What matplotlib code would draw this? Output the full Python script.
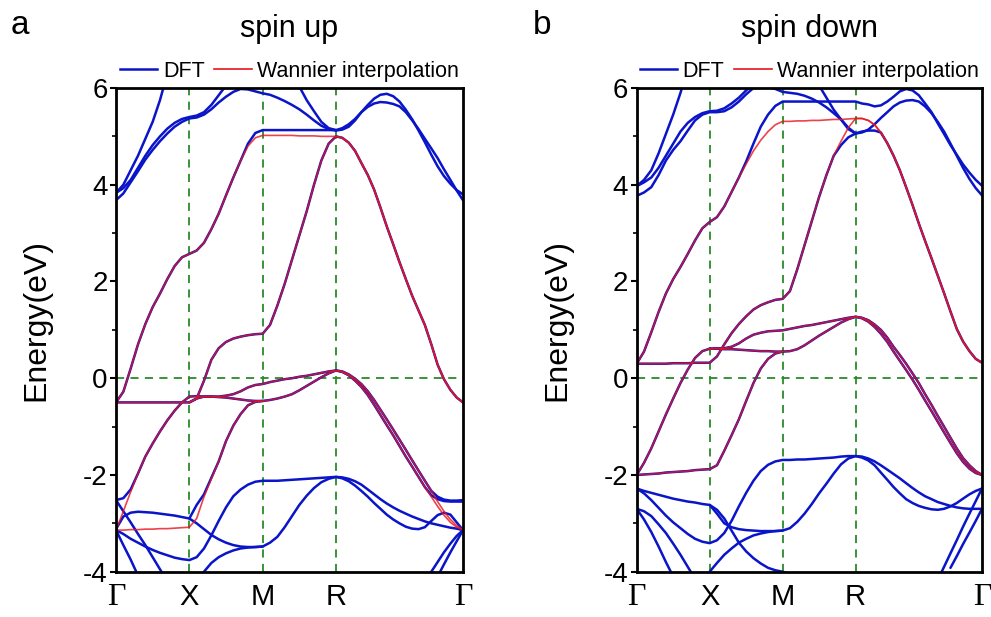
import numpy as np
import matplotlib.pyplot as plt

plt.rcParams['font.family'] = ['Liberation Sans', 'DejaVu Sans']
plt.rcParams['axes.unicode_minus'] = False

nan = np.nan
N = [nan]

# high-symmetry points of the simple cubic path G-X-M-R-G
k_nodes = [0.0, 0.5, 1.0, 1.5, 2.366]
k_labels = ['Γ', 'X', 'M', 'R', 'Γ']

# k values where the bands were read (G-X 11, X-M 10, M-R 10, R-G 20)
kpts = [0.0, 0.05, 0.1, 0.15, 0.2, 0.25, 0.3, 0.35, 0.4, 0.45, 0.5,
        0.55, 0.6, 0.65, 0.7, 0.75, 0.8, 0.85, 0.9, 0.95, 1.0,
        1.05, 1.1, 1.15, 1.2, 1.25, 1.3, 1.35, 1.4, 1.45, 1.5,
        1.543, 1.587, 1.63, 1.673, 1.717, 1.76, 1.803, 1.846, 1.89, 1.933,
        1.976, 2.02, 2.063, 2.106, 2.15, 2.193, 2.236, 2.28, 2.323, 2.366]

# ---------------- spin up ----------------
up_w1 = ([-0.5, -0.28, 0.2, 0.7, 1.12, 1.47, 1.75, 2.05, 2.32, 2.5, 2.57]
         + [2.64, 2.8, 3.08, 3.4, 3.78, 4.15, 4.5, 4.8, 4.97, 5.02]
         + [5.02, 5.02, 5.02, 5.02, 5.01, 5.01, 5.01, 5.0, 5.0, 5.0]
         + [4.97, 4.87, 4.7, 4.45, 4.2, 3.9, 3.53, 3.14, 2.77, 2.4,
            2.05, 1.7, 1.4, 1.1, 0.7, 0.28, -0.02, -0.24, -0.4, -0.5])
up_w2 = ([-0.5] * 11
         + [-0.42, -0.05, 0.38, 0.62, 0.75, 0.82, 0.86, 0.89, 0.91, 0.92]
         + [1.1, 1.5, 1.95, 2.45, 2.95, 3.45, 4.0, 4.5, 4.85, 5.0]
         + up_w1[31:])
up_w3 = ([-3.15, -2.75, -2.35, -1.97, -1.62, -1.35, -1.1, -0.87, -0.67, -0.5, -0.38]
         + [-0.37, -0.38, -0.38, -0.38, -0.36, -0.33, -0.27, -0.19, -0.14, -0.12]
         + [-0.08, -0.05, -0.02, 0.0, 0.03, 0.05, 0.08, 0.11, 0.14, 0.16]
         + [0.14, 0.08, -0.01, -0.12, -0.27, -0.45, -0.65, -0.85, -1.06, -1.27,
            -1.48, -1.7, -1.91, -2.12, -2.33, -2.55, -2.75, -2.92, -3.05, -3.13])
up_w4 = ([-3.14, -3.14, -3.13, -3.13, -3.12, -3.12, -3.11, -3.11, -3.1, -3.09, -3.08]
         + [-2.9, -2.45, -2.08, -1.72, -1.3, -0.98, -0.74, -0.56, -0.49, -0.47]
         + [-0.45, -0.42, -0.38, -0.33, -0.25, -0.16, -0.07, 0.02, 0.1, 0.16]
         + [0.13, 0.06, -0.05, -0.18, -0.35, -0.55, -0.76, -0.97, -1.18, -1.4,
            -1.62, -1.83, -2.04, -2.25, -2.45, -2.65, -2.83, -2.98, -3.08, -3.13])
up_w5 = (N * 10 + [-0.5]
         + [-0.42, -0.38, -0.38, -0.39, -0.4, -0.42, -0.44, -0.46, -0.47, -0.47]
         + N * 30)
up_wannier = [up_w1, up_w2, up_w3, up_w4, up_w5]

up_d1 = (up_w1[:18] + [4.85, 5.07, 5.13]
         + [5.13] * 10
         + [5.17, 5.25, 5.36, 5.5, 5.65, 5.78, 5.86, 5.88, 5.83, 5.72,
            5.55, 5.35, 5.12, 4.88, 4.62, 4.38, 4.18, 4.02, 3.89, 3.8])
up_d3 = ([-2.52, -2.48, -2.3, -1.97] + up_w3[4:45]
         + [-2.33, -2.45, -2.51, -2.53, -2.53, -2.52])
up_d4 = ([-3.12, -2.86, -2.78, -2.76, -2.77, -2.78, -2.8, -2.82, -2.84, -2.87, -2.9]
         + [-2.62, -2.4, -2.06] + up_w4[14:45]
         + [-2.42, -2.5, -2.54, -2.55, -2.55, -2.55])
up_d6 = [3.83, 4.0, 4.3, 4.6, 4.95, 5.3, 5.75, 6.3] + N * 43
up_d7 = ([3.83, 3.93, 4.1, 4.35, 4.6, 4.82, 5.0, 5.16, 5.28, 5.36, 5.4]
         + [5.43, 5.5, 5.65, 5.85, 6.05, 6.3] + N * 34)
up_d8 = ([3.68, 3.82, 4.05, 4.28, 4.52, 4.72, 4.9, 5.06, 5.2, 5.3, 5.37]
         + [5.39, 5.45, 5.56, 5.7, 5.82, 5.92, 5.98, 5.97, 5.93, 5.89]
         + [5.86, 5.8, 5.73, 5.65, 5.56, 5.45, 5.33, 5.22, 5.15, 5.12]
         + [5.14, 5.2, 5.33, 5.5, 5.61, 5.68, 5.71, 5.7, 5.67, 5.62,
            5.5, 5.33, 5.15, 4.95, 4.75, 4.55, 4.32, 4.1, 3.88, 3.68])
up_d9 = N * 24 + [6.3, 6.03, 5.75, 5.52, 5.3, 5.17, 5.13] + N * 20
up_d10 = ([-3.14, -3.22, -3.32, -3.4, -3.48, -3.55, -3.61, -3.66, -3.71, -3.74, -3.76]
          + [-3.7, -3.52, -3.25, -2.95, -2.67, -2.44, -2.3, -2.2, -2.14, -2.12]
          + [-2.12, -2.12, -2.11, -2.1, -2.09, -2.08, -2.07, -2.06, -2.05, -2.04]
          + [-2.05, -2.08, -2.13, -2.2, -2.3, -2.4, -2.5, -2.59, -2.67, -2.74,
             -2.8, -2.86, -2.91, -2.96, -3.0, -3.03, -3.06, -3.09, -3.11, -3.14])
up_d11 = (N * 10 + [-2.9]
          + [-3.0, -3.12, -3.24, -3.33, -3.4, -3.45, -3.48, -3.49, -3.49, -3.48]
          + [-3.4, -3.28, -3.08, -2.85, -2.62, -2.43, -2.27, -2.15, -2.08, -2.04]
          + [-2.07, -2.13, -2.22, -2.33, -2.45, -2.58, -2.7, -2.82, -2.92, -3.0,
             -3.07, -3.11, -3.12, -3.08, -2.95, -2.83, -2.78, -2.82, -2.98, -3.14])
up_d12 = [-2.52, -2.75, -2.98, -3.22, -3.45, -3.7, -3.95, -4.2] + N * 43
up_d13 = [-3.14, -3.45, -3.75, -4.08] + N * 47
up_d14 = N * 11 + [-4.3, -4.0, -3.82, -3.7, -3.62, -3.56, -3.52, -3.5, -3.49, -3.48] + N * 30
up_d15 = N * 44 + [-4.19, -4.0, -3.8, -3.6, -3.42, -3.26, -3.14]
up_d16 = N * 46 + [-4.1, -3.85, -3.6, -3.37, -3.14]
up_dft = [up_d1, up_w2, up_d3, up_d4, up_w5, up_d6, up_d7, up_d8, up_d9,
          up_d10, up_d11, up_d12, up_d13, up_d14, up_d15, up_d16]

# ---------------- spin down ----------------
dn_w1 = ([0.3, 0.55, 0.95, 1.37, 1.75, 2.05, 2.3, 2.57, 2.85, 3.1, 3.23]
         + [3.33, 3.55, 3.85, 4.15, 4.43, 4.7, 4.92, 5.1, 5.24, 5.31]
         + [5.31, 5.32, 5.32, 5.33, 5.33, 5.34, 5.35, 5.35, 5.36, 5.37]
         + [5.37, 5.33, 5.24, 5.08, 4.86, 4.6, 4.3, 3.95, 3.58, 3.2,
            2.84, 2.48, 2.12, 1.76, 1.38, 1.02, 0.76, 0.56, 0.4, 0.32])
dn_w2 = ([0.3, 0.3, 0.3, 0.3, 0.3, 0.31, 0.31, 0.31, 0.32, 0.32, 0.32]
         + [0.45, 0.7, 0.93, 1.12, 1.28, 1.42, 1.51, 1.57, 1.62, 1.64]
         + [1.8, 2.25, 2.75, 3.25, 3.75, 4.2, 4.6, 4.9, 5.18, 5.37]
         + dn_w1[31:])
dn_w3 = ([-2.0, -1.75, -1.45, -1.1, -0.75, -0.42, -0.1, 0.18, 0.42, 0.56, 0.61]
         + [0.62, 0.62, 0.65, 0.72, 0.82, 0.9, 0.94, 0.97, 0.98, 0.99]
         + [1.02, 1.05, 1.08, 1.1, 1.13, 1.16, 1.19, 1.22, 1.25, 1.27]
         + [1.25, 1.2, 1.11, 1.0, 0.84, 0.65, 0.48, 0.3, 0.1, -0.1,
            -0.33, -0.55, -0.78, -1.0, -1.23, -1.45, -1.65, -1.8, -1.92, -2.0])
dn_w4 = ([-2.0, -1.99, -1.98, -1.97, -1.95, -1.94, -1.93, -1.92, -1.9, -1.89, -1.88]
         + [-1.8, -1.5, -1.18, -0.85, -0.47, -0.1, 0.2, 0.4, 0.51, 0.55]
         + [0.56, 0.6, 0.68, 0.78, 0.88, 0.97, 1.06, 1.15, 1.22, 1.27]
         + [1.24, 1.17, 1.06, 0.92, 0.75, 0.55, 0.36, 0.17, -0.03, -0.24,
            -0.46, -0.68, -0.9, -1.12, -1.34, -1.55, -1.73, -1.87, -1.96, -2.0])
dn_w5 = (N * 10 + [0.61]
         + [0.61, 0.6, 0.6, 0.59, 0.58, 0.57, 0.56, 0.56, 0.55, 0.55]
         + N * 30)
dn_wannier = [dn_w1, dn_w2, dn_w3, dn_w4, dn_w5]

dn_d1 = (dn_w1[:15] + [4.48, 4.85, 5.2, 5.45, 5.63, 5.72]
         + [5.72] * 10
         + [5.68, 5.66, 5.62, 5.64, 5.72, 5.82, 5.93, 5.98, 5.95, 5.85,
            5.68, 5.5, 5.27, 5.05, 4.82, 4.62, 4.42, 4.25, 4.1, 3.98])
dn_d2 = (dn_w2[:27] + [4.6, 4.82, 4.98, 5.06]
         + [5.1, 5.12, 5.12, 5.08, 4.86] + dn_w1[36:])
dn_d6 = [3.97, 4.1, 4.3, 4.65, 5.05, 5.45, 5.9, 6.4] + N * 43
dn_d7 = ([3.97, 4.05, 4.15, 4.35, 4.6, 4.85, 5.1, 5.28, 5.4, 5.48, 5.52]
         + [5.53, 5.58, 5.68, 5.8, 5.95, 6.1] + N * 34)
dn_d8 = ([3.77, 3.84, 3.95, 4.2, 4.5, 4.72, 4.9, 5.12, 5.33, 5.45, 5.5]
         + [5.5, 5.52, 5.6, 5.72, 5.87, 6.0, 6.05, 6.03, 5.98, 5.92]
         + [5.9, 5.88, 5.84, 5.78, 5.7, 5.6, 5.48, 5.35, 5.18, 5.06]
         + [5.08, 5.14, 5.25, 5.38, 5.5, 5.62, 5.7, 5.74, 5.75, 5.72,
            5.62, 5.48, 5.3, 5.1, 4.85, 4.6, 4.35, 4.12, 3.93, 3.78])
dn_d9 = N * 24 + [6.35, 6.05, 5.8, 5.55, 5.35, 5.15, 5.06] + N * 20
dn_d10 = ([-2.28, -2.33, -2.37, -2.41, -2.45, -2.49, -2.52, -2.55, -2.57, -2.6, -2.62]
          + [-2.72, -2.9, -3.15, -3.4, -3.58, -3.72, -3.83, -3.92, -3.97, -4.0]
          + [-4.05, -4.15] + N * 28)
dn_d11 = ([-2.28, -2.38, -2.52, -2.68, -2.84, -2.98, -3.1, -3.22, -3.32, -3.38, -3.41]
          + [-3.35, -3.2, -2.95, -2.65, -2.37, -2.12, -1.92, -1.79, -1.72, -1.69]
          + [-1.69, -1.68, -1.68, -1.67, -1.66, -1.65, -1.64, -1.62, -1.61, -1.61]
          + [-1.62, -1.66, -1.72, -1.8, -1.89, -1.98, -2.07, -2.17, -2.27, -2.36,
             -2.44, -2.5, -2.56, -2.6, -2.64, -2.67, -2.69, -2.7, -2.7, -2.7])
dn_d12 = (N * 10 + [-2.62]
          + [-2.8, -3.0, -3.08, -3.12, -3.14, -3.15, -3.16, -3.16, -3.16, -3.15]
          + [-3.1, -2.97, -2.8, -2.6, -2.38, -2.18, -1.97, -1.78, -1.66, -1.61]
          + [-1.64, -1.7, -1.8, -1.95, -2.1, -2.25, -2.38, -2.5, -2.58, -2.64,
             -2.68, -2.71, -2.72, -2.7, -2.65, -2.58, -2.49, -2.4, -2.33, -2.28])
dn_d13 = (N * 10 + [-4.0]
          + [-3.82, -3.65, -3.52, -3.4, -3.32, -3.25, -3.21, -3.18, -3.16, -3.15]
          + N * 30)
dn_d14 = [-2.7, -2.75, -2.85, -3.02, -3.2, -3.42, -3.65, -3.9, -4.15] + N * 42
dn_d15 = [-2.7, -2.92, -3.18, -3.48, -3.8, -4.1] + N * 45
dn_d16 = N * 43 + [-4.17, -3.9, -3.62, -3.35, -3.07, -2.8, -2.54, -2.28]
dn_d17 = N * 45 + [-3.92, -3.68, -3.43, -3.19, -2.95, -2.7]
dn_dft = [dn_d1, dn_d2, dn_w3, dn_w4, dn_w5, dn_d6, dn_d7, dn_d8, dn_d9,
          dn_d10, dn_d11, dn_d12, dn_d13, dn_d14, dn_d15, dn_d16, dn_d17]

blue = '#0a14c8'
red = '#e8141e'
green = '#2a8a2a'

fig = plt.figure(figsize=(9.91, 6.17), dpi=100)


def draw(rect, dft, wan, title, letter, letter_x):
    ax = fig.add_axes(rect)
    for b in dft:
        ax.plot(kpts, b, color=blue, lw=1.8, solid_capstyle='round', solid_joinstyle='round')
    for b in wan:
        ax.plot(kpts, b, color=red, lw=1.2, alpha=0.8, solid_joinstyle='round')
    for kn in k_nodes[1:4]:
        ax.axvline(kn, color=green, lw=1.3, ls=(0, (4.5, 3.5)), zorder=0)
    ax.axhline(0, color=green, lw=1.3, ls=(0, (4.5, 3.5)), zorder=0)
    ax.set_xlim(0, k_nodes[-1])
    ax.set_ylim(-4, 6)
    ax.set_yticks([-4, -2, 0, 2, 4, 6])
    ax.set_yticks([-3, -1, 1, 3, 5], minor=True)
    ax.tick_params(axis='y', which='major', labelsize=20, length=4, width=1.5, pad=2)
    ax.tick_params(axis='y', which='minor', length=3, width=1.2)
    ax.set_xticks(k_nodes)
    ax.set_xticklabels(k_labels, fontsize=21)
    ax.tick_params(axis='x', length=0, pad=8)
    for t in ax.get_xticklabels():
        if t.get_text() == 'Γ':
            t.set_fontfamily('Liberation Serif')
            t.set_fontsize(23)
    for s in ax.spines.values():
        s.set_linewidth(2.0)
    ax.set_ylabel('Energy(eV)', fontsize=23)
    ax.yaxis.set_label_coords(-0.185, 0.52)
    h1, = ax.plot([], [], color=blue, lw=1.8)
    h2, = ax.plot([], [], color=red, lw=1.2)
    ax.legend([h1, h2], ['DFT', 'Wannier interpolation'], loc='lower center',
              bbox_to_anchor=(0.5, 1.008), ncol=2, frameon=False, fontsize=15.5,
              handlelength=1.75, handletextpad=0.25, columnspacing=0.45, borderaxespad=0.0,
              borderpad=0.1)
    cx = rect[0] + rect[2] / 2
    fig.text(cx, 1 - 29 / 617, title, ha='center', va='center', fontsize=22)
    fig.text(letter_x, 1 - 25 / 617, letter, ha='center', va='center', fontsize=24)
    return ax


draw([116 / 991, 1 - 571.7 / 617, 347 / 991, 483.7 / 617], up_dft, up_wannier, 'spin up', 'a', 20 / 991)
draw([636.7 / 991, 1 - 571.7 / 617, 345.3 / 991, 483.7 / 617], dn_dft, dn_wannier, 'spin down', 'b', 542 / 991)

fig.savefig('out.png', dpi=100)
